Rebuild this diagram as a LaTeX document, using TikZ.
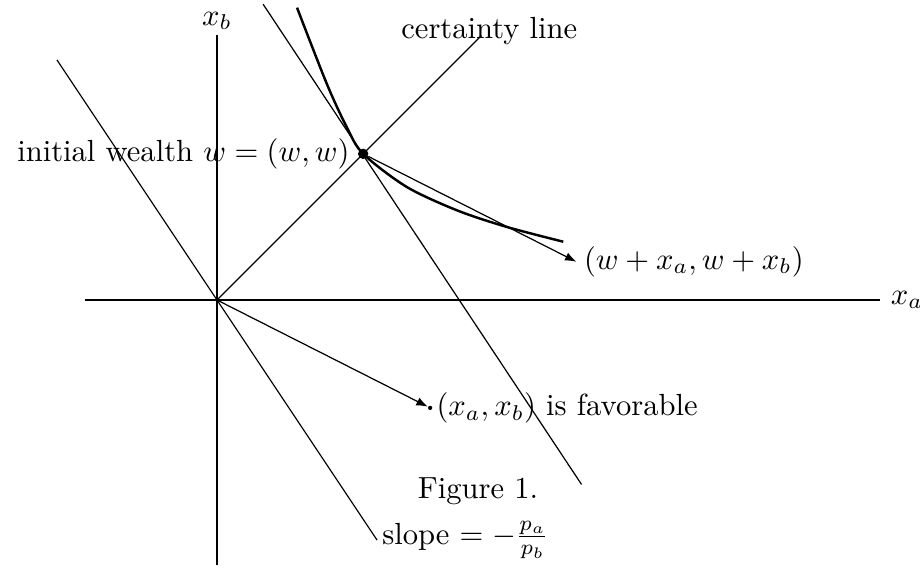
\documentclass[tikz,border=0pt]{standalone}
\usetikzlibrary{arrows.meta, positioning}

\begin{document}
\begin{tikzpicture}[
    arrow/.style={-{Latex[length=1.3mm, width=1mm]}},
    bigdot/.style={circle, fill, inner sep=0pt, minimum size=3.4pt},
    smalldot/.style={circle, fill, inner sep=0pt, minimum size=1.4pt},
    indiff/.style={thick}
]
\useasboundingbox (-2.494,-3.080) rectangle (8.080,3.448);

% ============ AXES ============
\coordinate (O) at (0,0);
\coordinate (xaend) at (7.62,0);
\coordinate (xbend) at (0,3.05);
\draw (-1.52,0) -- (xaend) node[right] (xalabel) {$x_a$};
\draw (0,-3.05) -- (xbend);
\node[inner sep=1pt] (xblabel) at (0,3.21) {$x_b$};

% certainty line
\coordinate (cert) at (3.04,3.04);
\draw (O) -- (cert);
\node (certlabel) at (3.13,3.09) {certainty line};

% ============ POINTS ============
\node[bigdot] (W) at (1.68,1.68) {};
\node[smalldot] (P) at (2.45,-1.24) {};
\coordinate (WP) at (4.13,0.44);

% budget lines (slope -p_a/p_b)
\draw (-1.84,2.76) -- (1.84,-2.76) node[right, inner sep=1.5pt] (slope) {slope $= -\frac{p_a}{p_b}$};
\draw (0.53,3.40) -- (4.19,-2.12);

% indifference curve through w
\draw[indiff] plot[smooth] coordinates {(0.92,3.36) (1.26,2.49) (1.49,1.99) (1.68,1.68) (2.18,1.30) (2.76,1.03) (3.33,0.84) (3.98,0.67)};

% gamble vectors
\draw[arrow] (O) -- (P);
\draw[arrow] (W) -- (WP);

% labels
\node[left=-1pt of W] (wlabel) {initial wealth $w = (w,w)$};
\node[right=-1pt of WP] (wplabel) {$(w+x_a, w+x_b)$};
\node[right=0pt of P, inner sep=1pt] (plabel) {$(x_a,x_b)$ is favorable};
\node[inner sep=1pt] (caption) at (3.0,-2.2) {Figure 1.};

\end{tikzpicture}
\end{document}
